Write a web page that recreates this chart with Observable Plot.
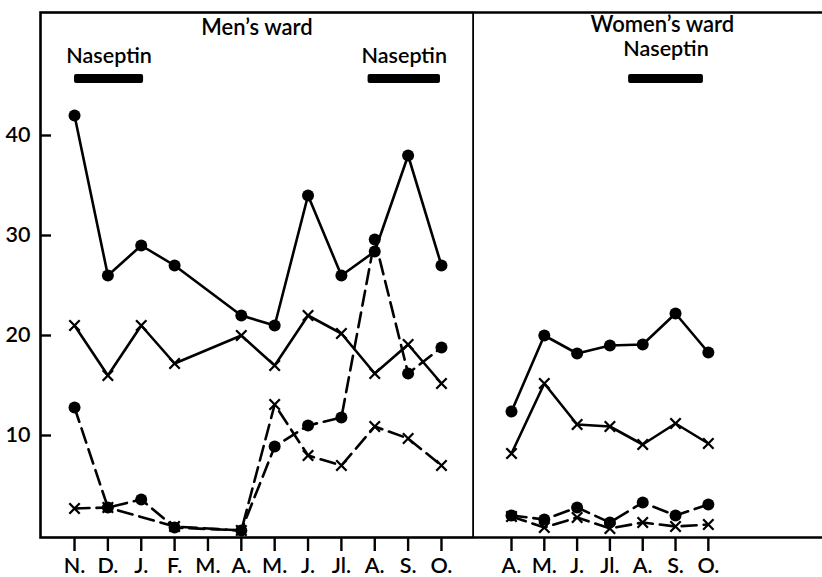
<!DOCTYPE html>
<html><head><meta charset="utf-8">
<script src="https://cdn.jsdelivr.net/npm/d3@7"></script>
<script src="https://cdn.jsdelivr.net/npm/@observablehq/plot@0.6"></script>
<style>
body{margin:0;background:#fff;}
#chart{display:flex;width:822px;height:577px;overflow:hidden;background:#fff;}
#chart svg{display:block;}
</style></head><body><div id="chart"></div>
<script>
// ---- data ----
const menMonths = ["N.", "D.", "J.", "F.", "M.", "A.", "M.", "J.", "Jl.", "A.", "S.", "O."];
const menSolidDot   = [42, 26, 29, 27, null, 22, 21, 34, 26, 28.4, 38, 27];
const menSolidCross = [21, 16, 21, 17.2, null, 20, 17, 22, 20.2, 16.2, 19.1, 15.2];
const menDashDot    = [12.8, 2.8, 3.6, 0.8, null, 0.5, 8.9, 11, 11.8, 29.6, 16.2, 18.8];
const menDashCross  = [2.7, 2.8, null, 0.9, null, 0.5, 13.1, 8, 7, 10.9, 9.7, 7];

const womenMonths = ["A.", "M.", "J.", "Jl.", "A.", "S.", "O."];
const womenSolidDot   = [12.4, 20, 18.2, 19, 19.1, 22.2, 18.3];
const womenSolidCross = [8.2, 15.2, 11.1, 10.9, 9.1, 11.2, 9.2];
const womenDashDot    = [2.0, 1.6, 2.8, 1.3, 3.3, 2.0, 3.1];
const womenDashCross  = [1.9, 0.8, 1.8, 0.7, 1.3, 0.9, 1.1];

const yTicks = [10, 20, 30, 40];
const menNaseptin = [{start: 0, end: 2.07}, {start: 8.8, end: 10.97}];
const womenNaseptin = [{start: 3.57, end: 5.85}];

// ---- layout ----
const yDomain = [-0.2, 52.3];
const menXDomain = [-1.02, 11.96];
const womenXDomain = [-1.128, 9.48];
const FONT = "Lato, 'Open Sans', sans-serif";
const SW = 2.6;
const FS = 21.5;

function rows(values) { return values.map((v, i) => ({i, v})).filter(d => d.v != null); }

function seriesMarks(values, dashed, symbol) {
  const data = rows(values);
  return [
    Plot.line(data, {x: "i", y: "v", stroke: "black", strokeWidth: SW,
      strokeDasharray: dashed ? "15,7" : null, strokeLinejoin: "round"}),
    symbol === "dot"
      ? Plot.dot(data, {x: "i", y: "v", r: 6, fill: "black", stroke: "none"})
      : Plot.dot(data, {x: "i", y: "v", symbol: "times", r: 4.8, stroke: "black", strokeWidth: 2.3})
  ];
}

function naseptinMarks(periods, labelY) {
  return [
    Plot.rect(periods, {x1: "start", x2: "end", y1: () => 45.2, y2: () => 46.1, fill: "black", rx: 2}),
    Plot.text(periods, {x: d => (d.start + d.end) / 2, y: () => labelY, text: () => "Naseptin",
      lineAnchor: "bottom", fontSize: FS, fontWeight: 600, fill: "black"})
  ];
}

const common = {
  height: 577, marginTop: 12, marginBottom: 40,
  y: {domain: yDomain},
  style: {fontFamily: FONT, fontSize: FS + "px", color: "black", background: "white", overflow: "visible"}
};

const men = Plot.plot({
  ...common,
  width: 474, marginLeft: 40, marginRight: 1,
  x: {domain: menXDomain},
  marks: [
    Plot.axisX(d3.range(menMonths.length), {tickSize: 14, tickPadding: 6, tickFormat: i => menMonths[i],
      strokeWidth: 2.4, fontSize: FS, fontWeight: 600, label: null}),
    Plot.axisY(yTicks, {tickSize: 11, dx: 11, tickFormat: () => "", strokeWidth: 2.4, label: null}),
    Plot.axisY(yTicks, {tickSize: 0, tickPadding: 10, fontSize: FS, fontWeight: 600, label: null}),
    Plot.frame({stroke: "black", strokeWidth: SW}),
    Plot.text(["Men’s ward"], {x: () => (menXDomain[0] + menXDomain[1]) / 2, y: () => 50.1,
      lineAnchor: "bottom", fontSize: FS + 0.5, fontWeight: 600, fill: "black"}),
    ...naseptinMarks(menNaseptin, 47.3),
    ...seriesMarks(menSolidDot, false, "dot"),
    ...seriesMarks(menSolidCross, false, "times"),
    ...seriesMarks(menDashDot, true, "dot"),
    ...seriesMarks(menDashCross, true, "times")
  ]
});

const women = Plot.plot({
  ...common,
  width: 348, marginLeft: 0, marginRight: 0,
  x: {domain: womenXDomain},
  marks: [
    Plot.axisX(d3.range(womenMonths.length), {tickSize: 14, tickPadding: 6, tickFormat: i => womenMonths[i],
      strokeWidth: 2.4, fontSize: FS, fontWeight: 600, label: null}),
    Plot.axisY([], {label: null}),
    Plot.ruleY([yDomain[0], yDomain[1]], {stroke: "black", strokeWidth: SW}),
    Plot.text(["Women’s ward"], {x: () => 4.6, y: () => 50.4,
      lineAnchor: "bottom", fontSize: FS + 0.5, fontWeight: 600, fill: "black"}),
    ...naseptinMarks(womenNaseptin, 48.0),
    ...seriesMarks(womenSolidDot, false, "dot"),
    ...seriesMarks(womenSolidCross, false, "times"),
    ...seriesMarks(womenDashDot, true, "dot"),
    ...seriesMarks(womenDashCross, true, "times")
  ]
});

document.getElementById("chart").append(men, women);
</script></body></html>
